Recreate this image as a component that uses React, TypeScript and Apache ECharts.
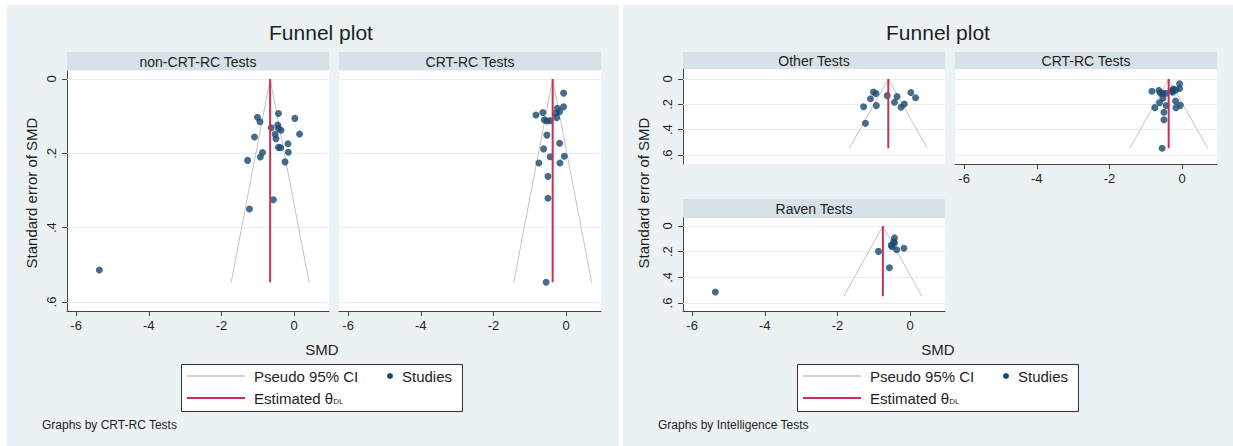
import React, { useEffect, useRef } from "react";
import * as echarts from "echarts";

// ---- data ----
const xTicks = [-6, -4, -2, 0];
const yTicks = [0, 0.2, 0.4, 0.6];

// non-CRT-RC studies, "Other" intelligence tests
const otherSMD = [-1.01, -0.94, -1.09, -1.28, -0.93, -1.23, -0.63, -0.36, -0.43, -0.25, -0.16, 0.02, 0.15];
const otherSE = [0.103, 0.115, 0.156, 0.219, 0.21, 0.35, 0.131, 0.138, 0.184, 0.223, 0.197, 0.106, 0.148];
// non-CRT-RC studies, Raven tests
const ravenSMD = [-0.43, -0.45, -0.43, -0.52, -0.5, -0.37, -0.17, -0.87, -0.57, -5.36];
const ravenSE = [0.093, 0.124, 0.133, 0.149, 0.161, 0.185, 0.174, 0.198, 0.325, 0.514];
// CRT-RC studies
const crtSMD = [-0.07, -0.24, -0.07, -0.18, -0.28, -0.83, -0.64, -0.6, -0.53, -0.44, -0.26, -0.53, -0.18, -0.62, -0.44, -0.05, -0.75, -0.17, -0.5, -0.5, -0.55];
const crtSE = [0.038, 0.079, 0.075, 0.088, 0.092, 0.097, 0.09, 0.11, 0.113, 0.112, 0.104, 0.151, 0.173, 0.188, 0.209, 0.208, 0.226, 0.226, 0.262, 0.321, 0.547];

// estimated theta (DL) per panel
const thetaNonCrt = -0.66;
const thetaCrt = -0.37;
const thetaOther = -0.6;
const thetaRaven = -0.75;
const seMax = 0.547;

const X_MIN = -6.25;
const X_MAX = 0.96;

const FONT = "'Liberation Sans', Arial, Helvetica, sans-serif";
const BG = "#eaf2f3";
const GRIDLINE = "#e6eff1";
const STRIP = "#d6e2e7";
const NAVY = "#1a476f";
const RED = "#cc2f55";
const GRAYCI = "#c4c4c4";
const AXIS = "#444";
const TXT = "#1e1e1e";

const fmtY = (v: number) => (v === 0 ? "0" : String(Number(v.toFixed(1))).replace("0.", "."));

function xAxisOf(idx: number, show: boolean) {
  return {
    gridIndex: idx,
    type: "value",
    min: X_MIN,
    max: X_MAX,
    axisLine: { show, onZero: false, lineStyle: { color: AXIS, width: 1 } },
    axisTick: { show, length: 5, customValues: xTicks, lineStyle: { color: AXIS } },
    axisLabel: { show, customValues: xTicks, margin: 8, fontSize: 13, color: TXT, fontFamily: FONT },
    splitLine: { show: false },
  };
}

function yAxisOf(idx: number, min: number, max: number, show: boolean) {
  return {
    gridIndex: idx,
    type: "value",
    inverse: true,
    min,
    max,
    axisLine: { show, onZero: false, lineStyle: { color: AXIS, width: 1 } },
    axisTick: { show, length: 5, customValues: yTicks, lineStyle: { color: AXIS } },
    axisLabel: {
      show,
      customValues: yTicks,
      rotate: 90,
      margin: 9,
      fontSize: 13,
      color: TXT,
      fontFamily: FONT,
      formatter: fmtY,
    },
    splitLine: { show: false },
  };
}

function panelSeries(idx: number, smd: number[], se: number[], theta: number) {
  const w = 1.96 * seMax;
  return [
    {
      // horizontal grid lines at the y ticks (drawn below everything)
      type: "line",
      xAxisIndex: idx,
      yAxisIndex: idx,
      data: [[theta, 0]],
      symbol: "none",
      showSymbol: false,
      lineStyle: { width: 0 },
      z: 1,
      silent: true,
      markLine: {
        z: 1,
        silent: true,
        symbol: "none",
        label: { show: false },
        lineStyle: { color: GRIDLINE, width: 1, type: "solid" },
        data: yTicks.map((v) => ({ yAxis: v })),
      },
    },
    {
      type: "line",
      xAxisIndex: idx,
      yAxisIndex: idx,
      data: [
        [theta - w, seMax],
        [theta, 0],
        [theta + w, seMax],
      ],
      symbol: "none",
      lineStyle: { color: GRAYCI, width: 1 },
      z: 2,
    },
    {
      type: "scatter",
      xAxisIndex: idx,
      yAxisIndex: idx,
      data: smd.map((x, i) => [x, se[i]]),
      symbolSize: 7,
      itemStyle: { color: NAVY },
      z: 3,
    },
    {
      type: "line",
      xAxisIndex: idx,
      yAxisIndex: idx,
      data: [
        [theta, 0],
        [theta, seMax],
      ],
      symbol: "none",
      lineStyle: { color: RED, width: 2 },
      z: 4,
    },
  ];
}

function strip(x: number, y: number, w: number, h: number, label: string) {
  return [
    { type: "rect", shape: { x, y, width: w, height: h }, style: { fill: STRIP } },
    {
      type: "text",
      x: x + w / 2,
      y: y + h / 2 + 0.5,
      style: { text: label, align: "center", verticalAlign: "middle", fontSize: 14, fill: TXT, fontFamily: FONT },
    },
  ];
}

function legendBox(bx: number) {
  const by = 364;
  return [
    { type: "rect", shape: { x: bx + 0.5, y: by + 0.5, width: 281, height: 47 }, style: { fill: "#fff", stroke: "#333", lineWidth: 1 } },
    { type: "line", shape: { x1: bx + 6, y1: 376, x2: bx + 64, y2: 376 }, style: { stroke: GRAYCI, lineWidth: 1.5 } },
    { type: "text", x: bx + 73, y: 376, style: { text: "Pseudo 95% CI", verticalAlign: "middle", fontSize: 15, fill: TXT, fontFamily: FONT } },
    { type: "circle", shape: { cx: bx + 209, cy: 376, r: 3 }, style: { fill: NAVY } },
    { type: "text", x: bx + 221, y: 376, style: { text: "Studies", verticalAlign: "middle", fontSize: 15, fill: TXT, fontFamily: FONT } },
    { type: "line", shape: { x1: bx + 6, y1: 398, x2: bx + 64, y2: 398 }, style: { stroke: RED, lineWidth: 2 } },
    {
      type: "text",
      x: bx + 73,
      y: 398,
      style: {
        text: "{a|Estimated θ}{b|DL}",
        verticalAlign: "middle",
        fontFamily: FONT,
        fill: TXT,
        rich: {
          a: { fontSize: 15, fontFamily: FONT, fill: TXT },
          b: { fontSize: 8, fontFamily: FONT, fill: TXT, verticalAlign: "bottom" },
        },
      },
    },
  ];
}

function plainText(x: number, y: number, text: string, size: number, align = "center", rotation = 0) {
  return {
    type: "text",
    x,
    y,
    rotation,
    style: { text, align, verticalAlign: "middle", fontSize: size, fill: TXT, fontFamily: FONT },
  };
}

export default function App() {
  const ref = useRef<HTMLDivElement>(null);
  useEffect(() => {
    if (!ref.current) return;
    const chart = echarts.init(ref.current, undefined, { renderer: "svg" });
    const topRowMin = -0.079;
    const topRowMax = 0.671;
    const option = {
      animation: false,
      backgroundColor: BG,
      grid: [
        { left: 67, top: 71, width: 262, height: 240, show: true, backgroundColor: "#fff", borderWidth: 0 },
        { left: 339, top: 71, width: 262, height: 240, show: true, backgroundColor: "#fff", borderWidth: 0 },
        { left: 683, top: 69, width: 262, height: 95, show: true, backgroundColor: "#fff", borderWidth: 0 },
        { left: 955, top: 69, width: 262, height: 95, show: true, backgroundColor: "#fff", borderWidth: 0 },
        { left: 683, top: 218, width: 262, height: 93, show: true, backgroundColor: "#fff", borderWidth: 0 },
      ],
      xAxis: [xAxisOf(0, true), xAxisOf(1, true), xAxisOf(2, false), xAxisOf(3, true), xAxisOf(4, true)],
      yAxis: [
        yAxisOf(0, -0.0215, 0.6242, true),
        yAxisOf(1, -0.0215, 0.6242, false),
        yAxisOf(2, topRowMin, topRowMax, true),
        yAxisOf(3, topRowMin, topRowMax, false),
        yAxisOf(4, -0.062, 0.662, true),
      ],
      series: [
        ...panelSeries(0, [...otherSMD, ...ravenSMD], [...otherSE, ...ravenSE], thetaNonCrt),
        ...panelSeries(1, crtSMD, crtSE, thetaCrt),
        ...panelSeries(2, otherSMD, otherSE, thetaOther),
        ...panelSeries(3, crtSMD, crtSE, thetaCrt),
        ...panelSeries(4, ravenSMD, ravenSE, thetaRaven),
      ],
      graphic: [
        // white gaps around the two figures
        { type: "rect", shape: { x: 0, y: 0, width: 1233, height: 5 }, style: { fill: "#fff" } },
        { type: "rect", shape: { x: 0, y: 0, width: 7, height: 446 }, style: { fill: "#fff" } },
        { type: "rect", shape: { x: 619, y: 0, width: 4, height: 446 }, style: { fill: "#fff" } },
        plainText(321, 32, "Funnel plot", 21),
        plainText(938, 32, "Funnel plot", 21),
        ...strip(67, 52, 262, 18, "non-CRT-RC Tests"),
        ...strip(339, 52, 262, 18, "CRT-RC Tests"),
        ...strip(683, 52, 262, 17, "Other Tests"),
        ...strip(955, 52, 262, 17, "CRT-RC Tests"),
        ...strip(683, 199, 262, 19, "Raven Tests"),
        plainText(31, 193, "Standard error of SMD", 15, "center", Math.PI / 2),
        plainText(643, 193, "Standard error of SMD", 15, "center", Math.PI / 2),
        plainText(322, 349, "SMD", 15),
        plainText(938, 349, "SMD", 15),
        ...legendBox(181),
        ...legendBox(797),
        plainText(42, 425, "Graphs by CRT-RC Tests", 12, "left"),
        plainText(658, 425, "Graphs by Intelligence Tests", 12, "left"),
      ],
    };
    chart.setOption(option as any);
    return () => chart.dispose();
  }, []);
  return (
    <div
      ref={ref}
      style={{ position: "fixed", left: 0, top: 0, width: 1233, height: 446 }}
    />
  );
}
